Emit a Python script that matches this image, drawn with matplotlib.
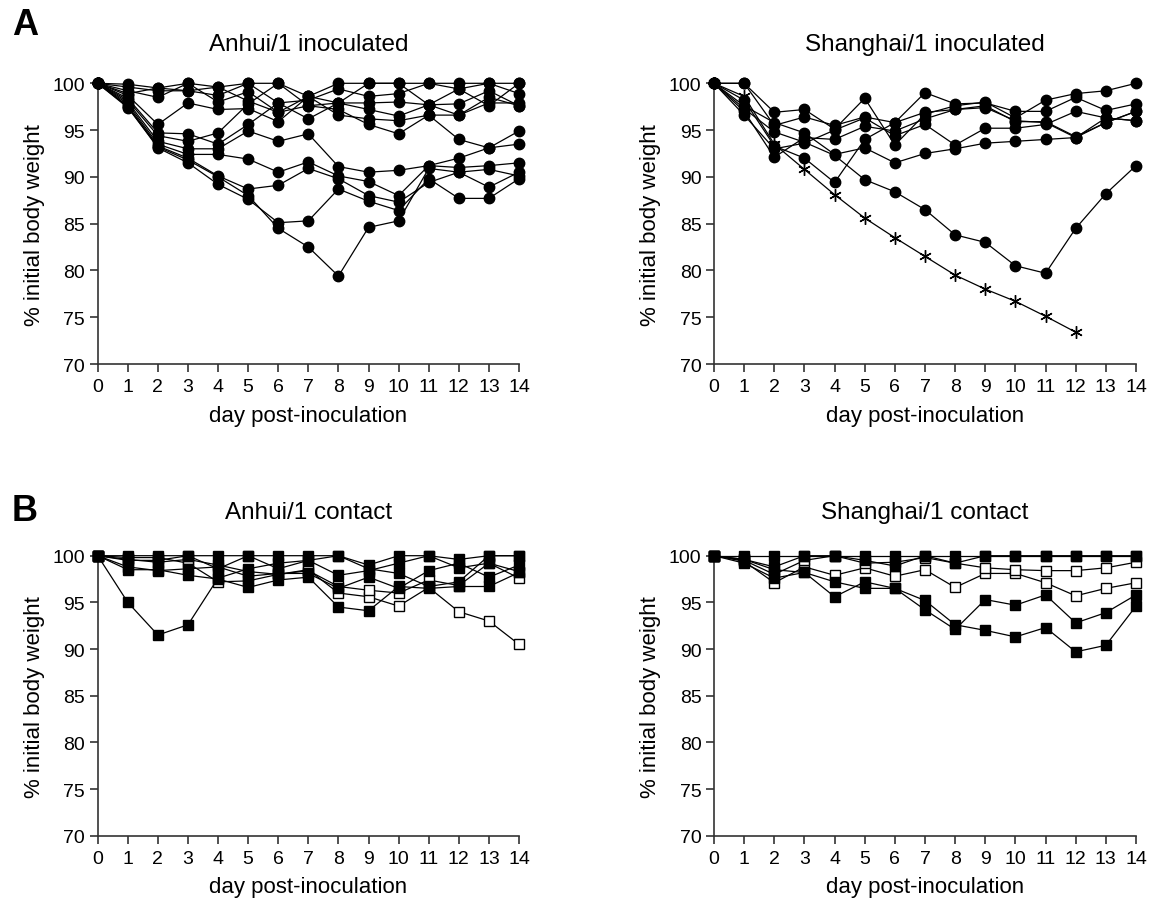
import numpy as np
import matplotlib
matplotlib.use("Agg")
import matplotlib.pyplot as plt

plt.rcParams['font.family'] = ['Liberation Sans', 'DejaVu Sans']

days = np.arange(15)

# --- A: Anhui/1 inoculated (filled circles) ---
anhui_inoc = [
    [100, 99.9, 99.5, 100.0, 99.6, 100.0, 100.0, 98.6, 100.0, 100.0, 100.0, 100.0, 100.0, 100.0, 100.0],
    [100, 99.6, 99.2, 99.2, 98.7, 100.0, 97.9, 98.2, 99.4, 98.6, 98.9, 100.0, 99.4, 100.0, 98.9],
    [100, 99.2, 98.5, 100.0, 98.0, 99.1, 96.9, 97.6, 97.9, 97.9, 98.0, 97.7, 97.8, 99.2, 97.6],
    [100, 98.7, 95.6, 97.9, 97.2, 97.3, 95.9, 98.6, 96.6, 96.2, 96.0, 96.6, 96.6, 97.9, 97.9],
    [100, 98.4, 94.7, 94.6, 93.5, 95.6, 97.9, 96.2, 97.9, 97.2, 96.5, 97.7, 99.4, 97.6, 100.0],
    [100, 98.2, 94.4, 93.8, 94.7, 97.8, 100.0, 97.6, 97.2, 95.6, 94.6, 96.6, 94.0, 93.1, 94.9],
    [100, 98.0, 93.8, 93.0, 93.0, 94.9, 93.8, 94.6, 91.1, 90.5, 90.7, 91.2, 91.0, 91.2, 91.5],
    [100, 97.8, 93.5, 92.4, 92.4, 91.9, 90.5, 91.6, 90.1, 89.5, 88.0, 91.2, 92.0, 93.1, 93.5],
    [100, 97.6, 93.3, 92.0, 90.1, 88.7, 89.1, 90.9, 89.8, 88.0, 87.3, 89.4, 90.5, 88.9, 90.5],
    [100, 97.5, 93.1, 91.5, 89.2, 87.6, 85.1, 85.3, 88.7, 87.4, 86.4, 89.8, 87.7, 87.7, 89.8],
    [100, 97.4, 93.2, 91.8, 90.0, 88.0, 84.5, 82.5, 79.4, 84.6, 85.3, 90.9, 90.5, 90.8, 90.1],
    [100, 98.9, 99.5, 99.2, 99.6, 98.1, 96.9, 98.6, 97.9, 100.0, 100.0, 97.7, 96.6, 98.5, 97.6],
]

# --- A: Shanghai/1 inoculated (filled circles + one asterisk animal) ---
shanghai_inoc = [
    [100, 100.0, 96.9, 97.2, 95.1, 98.4, 93.4, 96.7, 97.6, 98.0, 96.3, 98.2, 98.9, 99.2, 100.0],
    [100, 100.0, 95.5, 96.4, 95.5, 96.4, 95.8, 99.0, 97.8, 97.9, 97.0, 97.0, 98.5, 97.1, 97.8],
    [100, 97.6, 95.8, 94.7, 92.4, 93.1, 91.5, 92.5, 93.0, 93.6, 93.8, 94.0, 94.2, 96.3, 96.0],
    [100, 97.0, 92.1, 94.2, 94.0, 95.4, 94.9, 96.2, 97.2, 97.6, 95.9, 95.9, 94.3, 95.8, 97.0],
    [100, 96.6, 93.0, 93.6, 95.0, 96.3, 94.4, 95.6, 93.4, 95.2, 95.2, 95.6, 97.0, 96.3, 96.0],
    [100, 98.2, 93.3, 92.0, 89.4, 94.0, 95.8, 96.9, 97.2, 97.4, 96.0, 95.8, 94.2, 95.8, 97.0],
    [100, 97.3, 94.8, 93.7, 92.3, 89.7, 88.4, 86.5, 83.8, 83.0, 80.5, 79.7, 84.5, 88.2, 91.2],
]
shanghai_inoc_star = [100, 98.6, 93.5, 90.8, 88.1, 85.6, 83.5, 81.5, 79.5, 78.0, 76.7, 75.1, 73.4,
                      np.nan, np.nan]

# --- B: Anhui/1 contact (filled and open squares) ---
anhui_contact_filled = [
    [100, 100.0, 100.0, 100.0, 100.0, 100.0, 100.0, 100.0, 100.0, 99.0, 100.0, 100.0, 99.6, 100.0, 100.0],
    [100, 99.5, 99.5, 100.0, 98.6, 100.0, 98.6, 99.5, 97.9, 98.4, 99.2, 100.0, 98.7, 99.2, 98.3],
    [100, 98.8, 98.4, 98.6, 98.8, 97.8, 98.1, 98.1, 96.5, 97.7, 96.5, 98.4, 99.2, 97.7, 99.0],
    [100, 98.5, 98.5, 97.9, 97.5, 96.6, 97.4, 97.7, 94.5, 94.1, 96.7, 96.5, 96.7, 96.7, 98.2],
    [100, 95.0, 91.5, 92.6, 97.6, 98.6, 99.2, 99.5, 100.0, 98.6, 98.1, 96.7, 97.2, 100.0, 100.0],
]
anhui_contact_open = [
    [100, 99.8, 99.8, 99.2, 97.2, 97.3, 98.0, 98.5, 96.0, 95.6, 94.6, 96.6, 94.0, 93.0, 90.5],
    [100, 99.6, 99.3, 99.6, 99.0, 98.3, 98.0, 98.4, 96.7, 96.3, 96.0, 97.4, 96.8, 99.2, 97.6],
]

# --- B: Shanghai/1 contact ---
shanghai_contact_filled = [
    [100, 100.0, 100.0, 100.0, 100.0, 100.0, 100.0, 100.0, 100.0, 100.0, 100.0, 100.0, 100.0, 100.0, 100.0],
    [100, 99.2, 97.6, 98.2, 97.2, 96.5, 96.5, 94.2, 92.1, 95.3, 94.7, 95.8, 92.8, 93.9, 95.8],
    [100, 99.6, 98.5, 98.2, 95.6, 97.2, 96.5, 95.2, 92.6, 92.0, 91.3, 92.3, 89.7, 90.4, 94.6],
    [100, 99.6, 98.8, 100.0, 100.0, 99.5, 98.9, 100.0, 99.2, 100.0, 100.0, 100.0, 100.0, 100.0, 100.0],
]
shanghai_contact_open = [
    [100, 99.4, 97.1, 98.8, 97.9, 98.7, 97.8, 98.5, 96.6, 98.1, 98.1, 97.1, 95.7, 96.5, 97.1],
    [100, 99.5, 98.0, 99.5, 100.0, 99.2, 99.3, 99.8, 99.2, 98.7, 98.5, 98.4, 98.4, 98.7, 99.3],
]

W, H = 1153, 903
fig = plt.figure(figsize=(W / 100, H / 100), dpi=100)

# axes boxes in pixels: (left, top, right, bottom)
boxes = {
    "tl": (97.7, 84.3, 519.0, 365.0),
    "tr": (714.0, 84.3, 1136.0, 365.0),
    "bl": (97.7, 556.7, 519.0, 836.7),
    "br": (714.0, 556.7, 1136.0, 836.7),
}


def make_ax(key):
    l, t, r, b = boxes[key]
    return fig.add_axes([l / W, 1 - b / H, (r - l) / W, (b - t) / H])


AXCOL = '#333333'
LW = 0.9


def style(ax, title, pad):
    ax.set_xlim(0, 14)
    ax.set_ylim(70, 100)
    ax.set_xticks(days)
    ax.set_yticks(np.arange(70, 101, 5))
    ax.spines[['top', 'right']].set_visible(False)
    for s in ('left', 'bottom'):
        ax.spines[s].set_color(AXCOL)
        ax.spines[s].set_linewidth(1.2)
    ax.tick_params(direction='out', length=6, width=1.2, color=AXCOL,
                   labelsize=14, pad=3)
    ax.tick_params(axis='x', pad=4)
    ax.set_xlabel("day post-inoculation", fontsize=16)
    ax.xaxis.set_label_coords(0.5, -0.145)
    ax.set_ylabel("% initial body weight", fontsize=16)
    ax.yaxis.set_label_coords(-0.125, 0.5)
    ax.set_title(title, fontsize=17.5, pad=pad)


def plot_lines(ax, series, marker, mfc, ms):
    for vals in series:
        ax.plot(days, vals, color='black', lw=LW, marker=marker, ms=ms,
                mfc=mfc, mec='black', mew=1.0, clip_on=False, zorder=3)


ax = make_ax("tl")
plot_lines(ax, anhui_inoc, 'o', 'black', 7.5)
style(ax, "Anhui/1 inoculated", 24)

ax = make_ax("tr")
plot_lines(ax, shanghai_inoc, 'o', 'black', 7.5)
ax.plot(days, shanghai_inoc_star, color='black', lw=LW, marker=(6, 2, 0), ms=9,
        mec='black', mew=1.0, clip_on=False, zorder=3)
style(ax, "Shanghai/1 inoculated", 24)

ax = make_ax("bl")
plot_lines(ax, anhui_contact_open, 's', 'white', 7)
plot_lines(ax, anhui_contact_filled, 's', 'black', 7)
style(ax, "Anhui/1 contact", 27)

ax = make_ax("br")
plot_lines(ax, shanghai_contact_open, 's', 'white', 7)
plot_lines(ax, shanghai_contact_filled, 's', 'black', 7)
style(ax, "Shanghai/1 contact", 27)

fig.text(12 / W, 1 - 35 / H, "A", fontsize=26, fontweight='bold', va='baseline')
fig.text(12 / W, 1 - 521 / H, "B", fontsize=26, fontweight='bold', va='baseline')

fig.savefig("out.png", dpi=100)
